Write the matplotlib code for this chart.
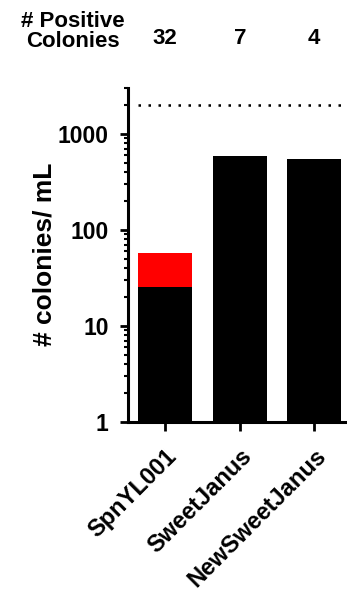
import matplotlib
matplotlib.use("Agg")
import matplotlib.pyplot as plt
from matplotlib.transforms import blended_transform_factory
import numpy as np

plt.rcParams['font.family'] = ['Liberation Sans', 'DejaVu Sans']
plt.rcParams['font.weight'] = 'bold'

categories = ["SpnYL001", "SweetJanus", "NewSweetJanus"]
negative = [25, 585, 540]
positive = [32, 7, 4]
positive_labels = ["32", "7", "4"]
ref_line = 2000
yticks = [1, 10, 100, 1000]
ytick_labels = ["1", "10", "100", "1000"]

fig = plt.figure(figsize=(3.47, 5.93), dpi=100)
ax = fig.add_axes([0.369, 0.289, 0.631, 0.5626])

x = np.arange(len(categories))
w = 0.725
ax.bar(x, negative, width=w, color="black", bottom=0)
ax.bar(x, positive, width=w, color="#ff0000", bottom=negative)

ax.set_yscale("log")
ax.set_ylim(1, 3000)
ax.set_xlim(-0.5, 2.44)
ax.plot([-0.37, 2.44], [ref_line, ref_line], color="black", lw=1.8,
        linestyle=(0, (1, 3)), clip_on=False)

ax.set_yticks(yticks)
ax.set_yticklabels(ytick_labels, fontsize=16.5, fontweight="bold")
ax.set_xticks(x)
ax.set_xticklabels(categories, fontsize=17, fontweight="bold", rotation=45,
                   ha="right", va="top", rotation_mode="anchor")

for s in ["top", "right"]:
    ax.spines[s].set_visible(False)
for s in ["left", "bottom"]:
    ax.spines[s].set_linewidth(2.2)

ax.tick_params(axis="y", which="major", length=6, width=2, pad=8)
ax.tick_params(axis="y", which="minor", length=3, width=1.5)
ax.tick_params(axis="x", which="major", length=6.5, width=2, pad=10)

ax.set_ylabel("# colonies/ mL", fontsize=19, fontweight="bold", labelpad=1)

fig.text(0.209, 0.947, "# Positive\nColonies", ha="center", va="center",
         fontsize=16, fontweight="bold", linespacing=0.95)
trans = blended_transform_factory(ax.transData, fig.transFigure)
for xi, lab in zip(x, positive_labels):
    ax.text(xi, 0.935, lab, transform=trans, ha="center", va="center",
            fontsize=16, fontweight="bold", clip_on=False)

fig.savefig("out.png", dpi=100)
